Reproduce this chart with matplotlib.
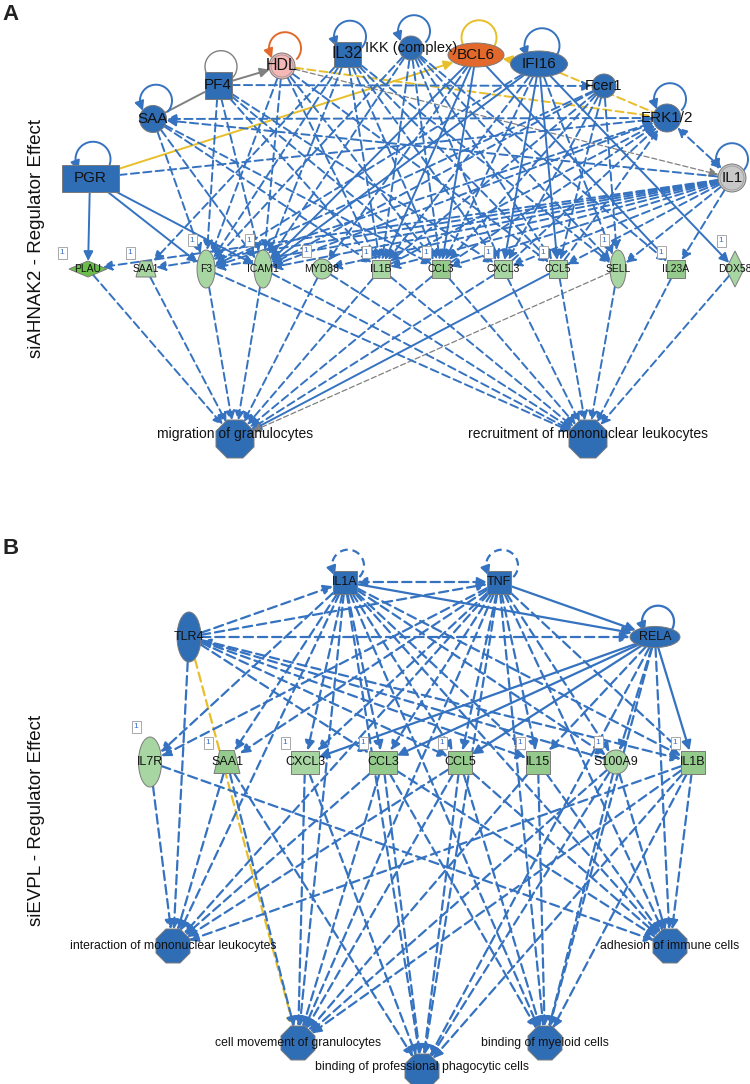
import numpy as np
import matplotlib
matplotlib.use('Agg')
import matplotlib.pyplot as plt
from matplotlib.patches import Rectangle, Ellipse, Polygon, RegularPolygon, FancyArrowPatch

plt.rcParams['font.family'] = ['Liberation Sans', 'DejaVu Sans']

# ---------------- data ----------------
A_regulators = ['PGR', 'SAA', 'PF4', 'HDL', 'IL32', 'IKK (complex)', 'BCL6', 'IFI16', 'Fcer1', 'ERK1/2', 'IL1']
A_targets = ['PLAU', 'SAA1', 'F3', 'ICAM1', 'MYD88', 'IL1B', 'CCL3', 'CXCL3', 'CCL5', 'SELL', 'IL23A', 'DDX58']
A_functions = ['migration of granulocytes', 'recruitment of mononuclear leukocytes']
B_regulators = ['IL1A', 'TNF', 'TLR4', 'RELA']
B_targets = ['IL7R', 'SAA1', 'CXCL3', 'CCL3', 'CCL5', 'IL15', 'S100A9', 'IL1B']
B_functions = ['interaction of mononuclear leukocytes', 'adhesion of immune cells',
               'cell movement of granulocytes', 'binding of myeloid cells',
               'binding of professional phagocytic cells']
panel_titles = ['siAHNAK2 - Regulator Effect', 'siEVPL - Regulator Effect']

# edges: (source, target, style, arrow)
A_edges = [
    ('PGR', 'PLAU', 's', '>'), ('PGR', 'F3', 's', '>'), ('PGR', 'ICAM1', 's', '>'),
    ('PGR', 'BCL6', 'ys', '>'), ('IFI16', 'BCL6', 'ys', '>'),
    ('HDL', 'ERK1/2', 'yd', '-'), ('IFI16', 'ERK1/2', 'yd', '-'),
    ('PF4', 'HDL', 'gs', '>'), ('PF4', 'SAA', 'gs', '-'), ('HDL', 'IL1', 'gd', '>'),
    ('ERK1/2', 'IL1', 'd', '<>'), ('ERK1/2', 'SAA', 'd', '>'), ('IL1', 'SAA', 'd', '>'),
    ('PGR', 'ERK1/2', 'd', '>'), ('PF4', 'Fcer1', 'd', '>'),
    ('BCL6', 'ICAM1', 's', '>'), ('BCL6', 'IL1B', 's', '>'), ('BCL6', 'CCL3', 's', '>'),
    ('BCL6', 'IL23A', 's', '>'), ('IFI16', 'ICAM1', 's', '>'), ('IFI16', 'CXCL3', 's', '>'),
    ('IFI16', 'CCL5', 's', '>'), ('IFI16', 'DDX58', 's', '>'),
    ('SAA', 'F3', 'd', '>'), ('SAA', 'ICAM1', 'd', '>'), ('SAA', 'IL1B', 'd', '>'), ('SAA', 'CCL3', 'd', '>'),
    ('PF4', 'F3', 'd', '>'), ('PF4', 'ICAM1', 'd', '>'), ('PF4', 'IL1B', 'd', '>'),
    ('PF4', 'CCL3', 'd', '>'), ('PF4', 'CXCL3', 'd', '>'),
    ('HDL', 'F3', 'd', '>'), ('HDL', 'ICAM1', 'd', '>'), ('HDL', 'IL1B', 'd', '>'),
    ('HDL', 'CCL3', 'd', '>'), ('HDL', 'CCL5', 'd', '>'),
    ('IL32', 'SAA1', 'd', '>'), ('IL32', 'F3', 'd', '>'), ('IL32', 'ICAM1', 'd', '>'),
    ('IL32', 'IL1B', 'd', '>'), ('IL32', 'CCL3', 'd', '>'), ('IL32', 'CXCL3', 'd', '>'),
    ('IL32', 'CCL5', 'd', '>'), ('IL32', 'SELL', 'd', '>'),
    ('IKK (complex)', 'F3', 'd', '>'), ('IKK (complex)', 'ICAM1', 'd', '>'),
    ('IKK (complex)', 'IL1B', 'd', '>'), ('IKK (complex)', 'CCL3', 'd', '>'),
    ('IKK (complex)', 'CXCL3', 'd', '>'), ('IKK (complex)', 'CCL5', 'd', '>'),
    ('IKK (complex)', 'IL23A', 'd', '>'), ('IKK (complex)', 'SELL', 'd', '>'),
    ('BCL6', 'MYD88', 'd', '>'),
    ('IFI16', 'F3', 'd', '>'), ('IFI16', 'IL1B', 'd', '>'), ('IFI16', 'CCL3', 'd', '>'), ('IFI16', 'SELL', 'd', '>'),
    ('Fcer1', 'F3', 'd', '>'), ('Fcer1', 'ICAM1', 'd', '>'), ('Fcer1', 'IL1B', 'd', '>'),
    ('Fcer1', 'CCL3', 'd', '>'), ('Fcer1', 'CXCL3', 'd', '>'), ('Fcer1', 'CCL5', 'd', '>'),
    ('Fcer1', 'SELL', 'd', '>'),
    ('F3', 'ERK1/2', 'd', '>'), ('ICAM1', 'ERK1/2', 'd', '>'), ('IL1B', 'ERK1/2', 'd', '>'),
    ('CCL3', 'ERK1/2', 'd', '>'), ('CXCL3', 'ERK1/2', 'd', '>'), ('CCL5', 'ERK1/2', 'd', '>'),
    ('IL1', 'PLAU', 'd', '>'), ('IL1', 'SAA1', 'd', '>'), ('IL1', 'F3', 'd', '>'),
    ('IL1', 'ICAM1', 'd', '>'), ('IL1', 'MYD88', 'd', '>'), ('IL1', 'IL1B', 'd', '>'),
    ('IL1', 'CCL3', 'd', '>'), ('IL1', 'CXCL3', 'd', '>'), ('IL1', 'CCL5', 'd', '>'),
    ('IL1', 'SELL', 'd', '>'), ('IL1', 'IL23A', 'd', '>'),
    # targets -> functions
    ('PLAU', 'migration of granulocytes', 'd', '>'), ('SAA1', 'migration of granulocytes', 'd', '>'),
    ('F3', 'migration of granulocytes', 'd', '>'), ('ICAM1', 'migration of granulocytes', 'd', '>'),
    ('MYD88', 'migration of granulocytes', 'd', '>'), ('IL1B', 'migration of granulocytes', 'd', '>'),
    ('CCL3', 'migration of granulocytes', 'd', '>'), ('CXCL3', 'migration of granulocytes', 'd', '>'),
    ('CCL5', 'migration of granulocytes', 's', '>'), ('SELL', 'migration of granulocytes', 'gd', '>'),
    ('F3', 'recruitment of mononuclear leukocytes', 'd', '>'),
    ('ICAM1', 'recruitment of mononuclear leukocytes', 'd', '>'),
    ('MYD88', 'recruitment of mononuclear leukocytes', 'd', '>'),
    ('IL1B', 'recruitment of mononuclear leukocytes', 'd', '>'),
    ('CCL3', 'recruitment of mononuclear leukocytes', 'd', '>'),
    ('CXCL3', 'recruitment of mononuclear leukocytes', 'd', '>'),
    ('CCL5', 'recruitment of mononuclear leukocytes', 'd', '>'),
    ('SELL', 'recruitment of mononuclear leukocytes', 'd', '>'),
    ('IL23A', 'recruitment of mononuclear leukocytes', 'd', '>'),
    ('DDX58', 'recruitment of mononuclear leukocytes', 'd', '>'),
]
A_loops = [('SAA', 'b', 'arrow'), ('PGR', 'b', 'arrow'), ('PF4', 'g', 'none'), ('HDL', 'o', 'arrow'),
           ('IL32', 'b', 'arrow'), ('IKK (complex)', 'b', 'arrow'), ('BCL6', 'y', 'bar'),
           ('IFI16', 'b', 'arrow'), ('ERK1/2', 'b', 'arrow'), ('IL1', 'b', 'arrow')]
A_ones = ['PLAU', 'SAA1', 'F3', 'ICAM1', 'MYD88', 'IL1B', 'CCL3', 'CXCL3', 'CCL5', 'SELL', 'IL23A', 'DDX58']

INT, ADH, CM, BM, BPP = B_functions
B_edges = [
    ('IL1A', 'TNF', 'd', '<>'), ('TLR4', 'IL1A', 'd', '>'), ('TLR4', 'TNF', 'd', '>'),
    ('TLR4', 'RELA', 'd', '>'), ('IL1A', 'RELA', 's', '>'), ('TNF', 'RELA', 's', '>'),
    ('TLR4', CM, 'yd', '>'), ('TLR4', INT, 'd', '>'),
    ('TLR4', 'CCL3', 'd', '>'), ('TLR4', 'CCL5', 'd', '>'), ('TLR4', 'IL15', 'd', '>'),
    ('S100A9', 'TLR4', 'd', '>'), ('TLR4', 'IL1B', 'd', '>'),
    ('IL1A', 'IL7R', 'd', '>'), ('IL1A', 'SAA1', 'd', '>'), ('IL1A', 'CXCL3', 'd', '>'),
    ('IL1A', 'CCL3', 'd', '>'), ('IL1A', 'CCL5', 'd', '>'), ('IL1A', 'IL15', 'd', '>'),
    ('IL1A', 'S100A9', 'd', '>'), ('IL1A', 'IL1B', 'd', '>'),
    ('TNF', 'SAA1', 'd', '>'), ('TNF', 'CXCL3', 'd', '>'), ('TNF', 'CCL3', 'd', '>'),
    ('TNF', 'CCL5', 'd', '>'), ('TNF', 'IL15', 'd', '>'), ('TNF', 'S100A9', 'd', '>'),
    ('TNF', 'IL1B', 'd', '>'), ('TNF', 'IL7R', 'd', '>'),
    ('RELA', 'CXCL3', 's', '>'), ('RELA', 'CCL3', 's', '>'), ('RELA', 'CCL5', 's', '>'),
    ('RELA', 'IL1B', 's', '>'), ('RELA', 'S100A9', 'd', '>'), ('RELA', 'IL15', 'd', '>'),
    ('IL1A', INT, 'd', '>'), ('IL1A', CM, 'd', '>'), ('IL1A', BPP, 'd', '>'),
    ('IL1A', BM, 'd', '>'), ('IL1A', ADH, 'd', '>'),
    ('TNF', INT, 'd', '>'), ('TNF', CM, 'd', '>'), ('TNF', BPP, 'd', '>'),
    ('TNF', BM, 'd', '>'), ('TNF', ADH, 'd', '>'),
    ('RELA', ADH, 'd', '>'), ('RELA', BM, 'd', '>'), ('RELA', BPP, 'd', '>'),
    ('IL7R', INT, 'd', '>'), ('IL7R', ADH, 'd', '>'),
    ('SAA1', INT, 'd', '>'), ('SAA1', CM, 'd', '>'), ('SAA1', BPP, 'd', '>'),
    ('CXCL3', CM, 'd', '>'), ('CXCL3', BPP, 'd', '>'),
    ('CCL3', INT, 'd', '>'), ('CCL3', CM, 'd', '>'), ('CCL3', BPP, 'd', '>'),
    ('CCL3', BM, 'd', '>'), ('CCL3', ADH, 'd', '>'),
    ('CCL5', INT, 'd', '>'), ('CCL5', CM, 'd', '>'), ('CCL5', BPP, 'd', '>'),
    ('CCL5', BM, 'd', '>'), ('CCL5', ADH, 'd', '>'),
    ('IL15', CM, 'd', '>'), ('IL15', BM, 'd', '>'), ('IL15', ADH, 'd', '>'),
    ('S100A9', CM, 'd', '>'), ('S100A9', BPP, 'd', '>'), ('S100A9', BM, 'd', '>'),
    ('S100A9', ADH, 'd', '>'),
    ('IL1B', INT, 'd', '>'), ('IL1B', CM, 'd', '>'), ('IL1B', BPP, 'd', '>'),
    ('IL1B', BM, 'd', '>'), ('IL1B', ADH, 'd', '>'),
]
B_loops = [('IL1A', 'bd', 'arrow'), ('TNF', 'bd', 'arrow'), ('RELA', 'b', 'arrow')]
B_ones = ['IL7R', 'SAA1', 'CXCL3', 'CCL3', 'CCL5', 'IL15', 'S100A9', 'IL1B']

# ---------------- layout / style ----------------
BLUE = '#2F6DB5'
EBLUE = '#3572C0'
GL = '#A8D6A2'
GM = '#94CB8C'
GD = '#6BBE4B'
ORANGE = '#E2692B'
PINK = '#F6B7B7'
GRAY = '#C8C8C8'
YEL = '#E8BF2A'
GRE = '#808080'

A_layout = {
    'PGR': (90, 178, 'rect', 57, 27, BLUE, 11),
    'SAA': (153, 119, 'circle', 27, 27, BLUE, 11),
    'PF4': (218, 85, 'rect', 27, 27, BLUE, 11),
    'HDL': (282, 66, 'circle', 26, 26, PINK, 11.5),
    'IL32': (347, 54, 'rect', 27, 25, BLUE, 11.5),
    'IKK (complex)': (411, 48, 'circle', 24, 24, BLUE, 10.5),
    'BCL6': (476, 55, 'ellipse', 56, 24, ORANGE, 11),
    'IFI16': (539, 64, 'ellipse', 57, 26, BLUE, 11),
    'Fcer1': (604, 86, 'circle', 24, 24, BLUE, 10.5),
    'ERK1/2': (667, 118, 'circle', 28, 28, BLUE, 11),
    'IL1': (732, 178, 'circle', 28, 28, GRAY, 11),
    'PLAU': (88, 269, 'diamond', 38, 16, GD, 7.5),
    'SAA1': (146, 269, 'trap', 20, 16, GL, 7.5),
    'F3': (206, 269, 'ellipse', 18, 38, GL, 7.5),
    'ICAM1': (263, 269, 'ellipse', 18, 38, GL, 7.5),
    'MYD88': (322, 269, 'circle', 20, 20, GL, 7.5),
    'IL1B': (381, 269, 'rect', 18, 18, GL, 7.5),
    'CCL3': (441, 269, 'rect', 18, 18, GM, 7.5),
    'CXCL3': (503, 269, 'rect', 18, 18, GL, 7.5),
    'CCL5': (558, 269, 'rect', 18, 18, GL, 7.5),
    'SELL': (618, 269, 'ellipse', 16, 38, GL, 7.5),
    'IL23A': (676, 269, 'rect', 18, 18, GM, 7.5),
    'DDX58': (735, 269, 'diamond', 18, 36, GL, 7.5),
    'migration of granulocytes': (235, 439, 'oct', 38, 38, BLUE, 10),
    'recruitment of mononuclear leukocytes': (588, 439, 'oct', 38, 38, BLUE, 10),
}
A_label_y = {'migration of granulocytes': 434, 'recruitment of mononuclear leukocytes': 434}

B_layout = {
    'IL1A': (345, 582, 'rect', 24, 23, BLUE, 9),
    'TNF': (499, 582, 'rect', 24, 23, BLUE, 9),
    'TLR4': (189, 637, 'ellipse', 24, 50, BLUE, 9),
    'RELA': (655, 637, 'ellipse', 50, 21, BLUE, 9),
    'IL7R': (150, 762, 'ellipse', 23, 50, GL, 9),
    'SAA1': (227, 762, 'trap', 26, 23, GM, 9),
    'CXCL3': (305, 762, 'rect', 28, 23, GL, 9),
    'CCL3': (383, 762, 'rect', 28, 23, GM, 9),
    'CCL5': (460, 762, 'rect', 24, 23, GM, 9),
    'IL15': (538, 762, 'rect', 24, 23, GM, 9),
    'S100A9': (616, 762, 'circle', 24, 24, GL, 9),
    'IL1B': (693, 762, 'rect', 24, 23, GM, 9),
    INT: (173, 946, 'oct', 34, 34, BLUE, 8.8),
    ADH: (670, 946, 'oct', 34, 34, BLUE, 8.8),
    CM: (298, 1043, 'oct', 34, 34, BLUE, 8.8),
    BM: (545, 1043, 'oct', 34, 34, BLUE, 8.8),
    BPP: (422, 1071, 'oct', 34, 34, BLUE, 8.8),
}
B_label_y = {INT: 946, ADH: 946, CM: 1043, BM: 1043, BPP: 1067}

STYLE = {
    's': (EBLUE, '-'), 'd': (EBLUE, (0, (4.2, 2.2))),
    'ys': (YEL, '-'), 'yd': (YEL, (0, (4.2, 2.2))),
    'gs': (GRE, '-'), 'gd': (GRE, (0, (4.2, 2.2))),
}
LOOPC = {'b': (EBLUE, '-'), 'bd': (EBLUE, (0, (3.5, 2.2))), 'g': (GRE, '-'),
         'o': (ORANGE, '-'), 'y': (YEL, '-')}

fig = plt.figure(figsize=(7.5, 10.84), dpi=100)
ax = fig.add_axes([0, 0, 1, 1])
ax.set_xlim(0, 750)
ax.set_ylim(1084, 0)
ax.axis('off')


def boundary(n, other):
    x, y, shape, w, h = n[:5]
    dx, dy = other[0] - x, other[1] - y
    d = np.hypot(dx, dy)
    if d == 0:
        return x, y
    if shape == 'rect' or shape == 'trap':
        t = min((w / 2) / abs(dx) if dx else 1e9, (h / 2) / abs(dy) if dy else 1e9)
    elif shape == 'diamond':
        t = 1.0 / (abs(dx) / (w / 2) + abs(dy) / (h / 2))
    else:
        a, b = w / 2, h / 2
        if shape == 'oct':
            a, b = w / 2 * 0.97, h / 2 * 0.97
        t = 1.0 / np.sqrt((dx / a) ** 2 + (dy / b) ** 2)
    return x + t * dx, y + t * dy


def draw_edges(layout, edges, lw=1.4):
    for s, t, st, arr in edges:
        A, B = layout[s], layout[t]
        p1 = boundary(A, B)
        p2 = boundary(B, A)
        color, ls = STYLE[st]
        astyle = {'>': '-|>', '<>': '<|-|>', '-': '-'}[arr]
        thin = st.startswith('g') and st.endswith('d')
        ax.add_patch(FancyArrowPatch(p1, p2, arrowstyle=astyle, mutation_scale=14,
                                     lw=0.9 if thin else lw, color=color, linestyle=ls,
                                     shrinkA=0, shrinkB=0, zorder=2))


def draw_loop(layout, name, ckey, end, lw=1.4):
    x, y, shape, w, h = layout[name][:5]
    r = 16
    if name in ('IFI16', 'BCL6', 'PGR'):
        r = 17.5
    top = y - h / 2
    dx = 0 if name == 'IL1' else 3
    cx, cy = x + dx, top - 0.3 * r
    color, ls = LOOPC[ckey]
    a = np.radians(np.linspace(-45, 215, 80))
    px = cx + r * np.cos(a)
    py = cy - r * np.sin(a)
    if end == 'arrow':
        ax.plot(px[:-6], py[:-6], color=color, lw=lw, linestyle=ls, zorder=2, solid_capstyle='butt')
        ax.add_patch(FancyArrowPatch((px[-8], py[-8]), (px[-1], py[-1] + 1), arrowstyle='-|>',
                                     mutation_scale=14, lw=lw, color=color, shrinkA=0, shrinkB=0, zorder=2))
    else:
        ax.plot(px, py, color=color, lw=lw if ckey != 'g' else 1.0, linestyle=ls, zorder=2)
        if end == 'bar':
            ang = a[-1]
            ax.plot([px[-1] - 5 * np.cos(ang), px[-1] + 5 * np.cos(ang)],
                    [py[-1] + 5 * np.sin(ang), py[-1] - 5 * np.sin(ang)], color=color, lw=lw, zorder=2)


def draw_nodes(layout, label_y):
    for name, (x, y, shape, w, h, fc, fs) in layout.items():
        ec = '#7A7A7A'
        if shape == 'rect':
            p = Rectangle((x - w / 2, y - h / 2), w, h, fc=fc, ec=ec, lw=0.7)
        elif shape in ('circle', 'ellipse'):
            p = Ellipse((x, y), w, h, fc=fc, ec=ec, lw=0.7)
        elif shape == 'diamond':
            p = Polygon([(x - w / 2, y), (x, y - h / 2), (x + w / 2, y), (x, y + h / 2)],
                        closed=True, fc=fc, ec=ec, lw=0.7)
        elif shape == 'trap':
            p = Polygon([(x - w / 2, y + h / 2), (x + w / 2, y + h / 2), (x + w * 0.28, y - h / 2),
                         (x - w * 0.28, y - h / 2)], closed=True, fc=fc, ec=ec, lw=0.7)
        else:
            p = RegularPolygon((x, y), 8, radius=w / 2 / np.cos(np.pi / 8), orientation=np.pi / 8,
                               fc=fc, ec=ec, lw=0.7)
        p.set_zorder(3)
        ax.add_patch(p)
        if name in ('HDL', 'IL1'):
            ax.add_patch(Ellipse((x, y), w - 4, h - 4, fc='none', ec='#9A9A9A', lw=0.6, zorder=3))
        ly = label_y.get(name, y)
        ax.text(x, ly, name, ha='center', va='center', fontsize=fs, color='#111111', zorder=5)


def draw_ones(layout, names):
    for n in names:
        x, y, shape, w, h = layout[n][:5]
        yy = y - h / 2 - 10 if h >= 30 else y - h / 2 - 8
        xx = x - w / 2 - 6 if h < 30 else x - 14
        if shape == 'diamond' and h < 30:
            xx = x - 26
        ax.add_patch(Rectangle((xx - 4.5, yy - 6), 9, 12, fc='white', ec='#9A9A9A', lw=0.6, zorder=4))
        ax.text(xx, yy, '1', ha='center', va='center', fontsize=6, color='#3A6FC0', zorder=5)


# ---------------- panel A ----------------
draw_edges(A_layout, A_edges)
for n, c, e in A_loops:
    draw_loop(A_layout, n, c, e)
draw_nodes(A_layout, A_label_y)
draw_ones(A_layout, A_ones)

# ---------------- panel B ----------------
draw_edges(B_layout, B_edges, lw=1.6)
for n, c, e in B_loops:
    draw_loop(B_layout, n, c, e, lw=1.6)
draw_nodes(B_layout, B_label_y)
draw_ones(B_layout, B_ones)

# ---------------- titles ----------------
ax.text(2, 14, 'A', fontsize=16, fontweight='bold', ha='left', va='center', color='#222222')
ax.text(2, 548, 'B', fontsize=16, fontweight='bold', ha='left', va='center', color='#222222')
ax.text(37, 239, panel_titles[0], rotation=90, fontsize=13.5, ha='center', va='center', color='#111111')
ax.text(37, 820, panel_titles[1], rotation=90, fontsize=13.5, ha='center', va='center', color='#111111')

fig.savefig('out.png', dpi=100)
